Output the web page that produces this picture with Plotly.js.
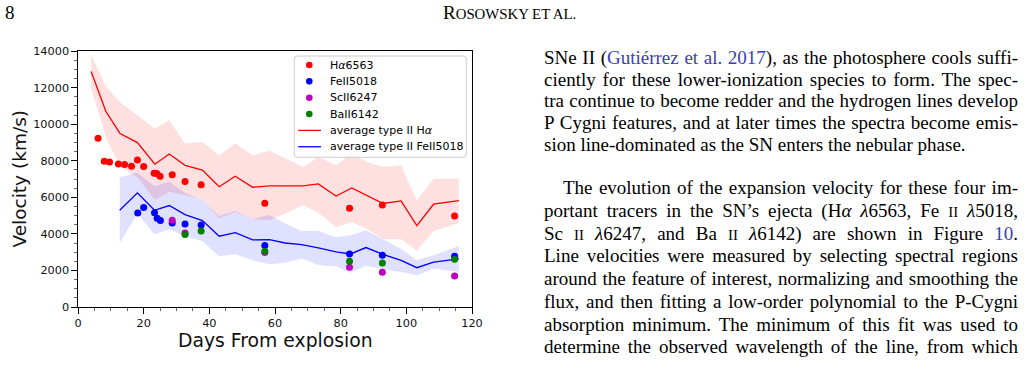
<!DOCTYPE html>
<html>
<head>
<meta charset="utf-8">
<script src="https://cdn.plot.ly/plotly-3.0.1.min.js"></script>
<style>
  html, body { margin: 0; padding: 0; background: #fff; }
  #page { position: relative; width: 1034px; height: 373px; overflow: hidden; background: #fff; }
  #chart { position: absolute; left: 0; top: 0; width: 1034px; height: 373px; }
  .serif { font-family: "Liberation Serif", "Times New Roman", serif; color: #000; }
  .head { position: absolute; font-size: 19px; line-height: 22px; white-space: nowrap; }
  .ln { position: absolute; left: 544px; width: 474px; font-size: 19px; line-height: 22.7px; height: 22.7px;
        text-align: justify; text-align-last: justify; white-space: normal; }
  .ln.end { text-align-last: left; }
  .ln.indent { text-indent: 19px; }
  .sc { font-size: 0.78em; }
  .lk { color: #3a3fae; }
</style>
</head>
<body>
<div id="page">
  <div id="chart"></div>

  <div class="serif head" style="left:5px; top:2px;">8</div>
  <div class="serif head" style="left:443px; top:2px;">R<span class="sc">OSOWSKY ET AL.</span></div>

  <div class="serif ln" style="top:47px;">SNe II (<span class="lk">Gutiérrez et al. 2017</span>), as the photosphere cools suffi-</div>
  <div class="serif ln" style="top:68.7px;">ciently for these lower-ionization species to form. The spec-</div>
  <div class="serif ln" style="top:90.4px;">tra continue to become redder and the hydrogen lines develop</div>
  <div class="serif ln" style="top:112.1px;">P Cygni features, and at later times the spectra become emis-</div>
  <div class="serif ln end" style="top:133.8px;">sion line-dominated as the SN enters the nebular phase.</div>

  <div class="serif ln indent" style="top:177px;">The evolution of the expansion velocity for these four im-</div>
  <div class="serif ln" style="top:199.75px;">portant tracers in the SN’s ejecta (H<i>α</i> <i>λ</i>6563, Fe <span class="sc">II</span> <i>λ</i>5018,</div>
  <div class="serif ln" style="top:222.5px;">Sc <span class="sc">II</span> <i>λ</i>6247, and Ba <span class="sc">II</span> <i>λ</i>6142) are shown in Figure <span class="lk">10</span>.</div>
  <div class="serif ln" style="top:245.25px;">Line velocities were measured by selecting spectral regions</div>
  <div class="serif ln" style="top:268px;">around the feature of interest, normalizing and smoothing the</div>
  <div class="serif ln" style="top:290.75px;">flux, and then fitting a low-order polynomial to the P-Cygni</div>
  <div class="serif ln" style="top:313.5px;">absorption minimum. The minimum of this fit was used to</div>
  <div class="serif ln" style="top:336.25px;">determine the observed wavelength of the line, from which</div>
</div>

<script>
// ---- measured line velocities (km/s) vs days from explosion ----
const haDays = [6.1, 8.0, 9.6, 12.3, 14.2, 16.3, 18.1, 20.0, 23.2, 24.0, 25.0, 28.7, 32.6, 37.5, 56.9, 82.7, 92.7, 114.7];
const haVel  = [9230, 7970, 7930, 7820, 7790, 7700, 8040, 7680, 7310, 7300, 7150, 7230, 6860, 6680, 5670, 5400, 5580, 4980];

const feDays = [18.2, 20.0, 23.3, 24.1, 25.1, 28.7, 32.6, 37.5, 56.9, 82.7, 92.7, 114.7];
const feVel  = [5140, 5440, 5160, 4850, 4730, 4600, 4540, 4490, 3360, 2900, 2830, 2770];

const scDays = [28.7, 32.6, 56.9, 82.7, 92.7, 114.7];
const scVel  = [4740, 4050, 2980, 2170, 1900, 1700];

const baDays = [32.6, 37.5, 56.9, 82.7, 92.7, 114.7];
const baVel  = [3960, 4160, 3050, 2500, 2410, 2610];

// ---- average type II SN velocities with 1-sigma envelope (km/s) ----
const avgHaDays  = [4.0, 8.5, 12.8, 18.1, 23.4, 27.8, 32.6, 37.9, 43.0, 47.9, 53.2, 58.4, 63.2, 68.6, 73.2, 78.6, 83.4, 88.0, 92.9, 98.4, 103.2, 108.3, 116.0];
const avgHaVel   = [12880, 10690, 9490, 8990, 7810, 8370, 7750, 7490, 6580, 7150, 6550, 6620, 6620, 6620, 6730, 6070, 6510, 6110, 5660, 5800, 4450, 5620, 5820];
const avgHaUpper = [13790, 12070, 11210, 10490, 9760, 10210, 8940, 9030, 8300, 8940, 8300, 8540, 8120, 7660, 8210, 7750, 8390, 7930, 7660, 7750, 5840, 7020, 7020];
const avgHaLower = [11950, 9300, 7650, 7100, 5850, 6300, 6100, 5900, 4850, 5200, 4780, 4760, 5110, 5570, 5150, 4380, 4630, 4250, 3720, 3700, 3080, 4150, 4600];

const avgFeDays  = [12.7, 18.1, 23.3, 27.8, 32.6, 37.9, 43.0, 47.9, 53.2, 58.3, 63.1, 68.1, 73.2, 78.6, 83.0, 87.7, 92.9, 98.4, 103.2, 108.3, 116.0];
const avgFeVel   = [5290, 6240, 5290, 5550, 5050, 4730, 3870, 4070, 3670, 3690, 3500, 3410, 3230, 3010, 2900, 3250, 2880, 2550, 2150, 2460, 2630];
const avgFeUpper = [7100, 7360, 6600, 6850, 6230, 5870, 4970, 5260, 4790, 5040, 4570, 4160, 4160, 3810, 3930, 4200, 3700, 3190, 2560, 2830, 3330];
const avgFeLower = [3500, 5120, 3970, 4250, 3870, 3590, 2770, 2880, 2550, 2340, 2420, 2650, 2300, 2210, 1870, 2250, 2060, 1910, 1740, 2090, 1930];

// ---- figure geometry ----
const W = 1034, H = 373;
const M = { l: 78, r: 562, t: 51, b: 66 };
const plotW = W - M.l - M.r, plotH = H - M.t - M.b;
const px2x = p => (p - M.l) / plotW;          // page pixel -> paper x
const py2y = p => (H - M.b - p) / plotH;      // page pixel -> paper y

const FONT = 'DejaVu Sans, Verdana, sans-serif';

function band(days, upper, lower, color) {
  return {
    type: 'scatter', mode: 'lines',
    x: days.concat(days.slice().reverse()),
    y: upper.concat(lower.slice().reverse()),
    fill: 'toself', fillcolor: color,
    line: { width: 0, color: 'rgba(0,0,0,0)' },
    hoverinfo: 'skip', showlegend: false
  };
}
function avgLine(days, vel, color, name) {
  return { type: 'scatter', mode: 'lines', x: days, y: vel, name: name,
           line: { color: color, width: 1.3 }, showlegend: false };
}
function dots(days, vel, color, name) {
  return { type: 'scatter', mode: 'markers', x: days, y: vel, name: name,
           marker: { color: color, size: 7, line: { width: 0 } }, showlegend: false };
}

const traces = [
  band(avgHaDays, avgHaUpper, avgHaLower, 'rgba(255,0,0,0.12)'),
  band(avgFeDays, avgFeUpper, avgFeLower, 'rgba(0,0,255,0.12)'),
  avgLine(avgHaDays, avgHaVel, '#ff0000', 'average type II Hα'),
  avgLine(avgFeDays, avgFeVel, '#0000ff', 'average type II FeII5018'),
  dots(haDays, haVel, '#ff0000', 'Hα6563'),
  dots(feDays, feVel, '#0000ff', 'FeII5018'),
  dots(scDays, scVel, '#bf00bf', 'ScII6247'),
  dots(baDays, baVel, '#008000', 'BaII6142')
];

// ---- legend (drawn in page pixels, upper right of the axes) ----
const legendEntries = [
  { label: 'H<i>α</i>6563', kind: 'dot', color: '#ff0000' },
  { label: 'FeII5018', kind: 'dot', color: '#0000ff' },
  { label: 'ScII6247', kind: 'dot', color: '#bf00bf' },
  { label: 'BaII6142', kind: 'dot', color: '#008000' },
  { label: 'average type II H<i>α</i>', kind: 'line', color: '#ff0000' },
  { label: 'average type II FeII5018', kind: 'line', color: '#0000ff' }
];
const LG = { x0: 294.3, y0: 56, x1: 466.3, y1: 157.3, r: 3, row0: 65, step: 16.35,
             dotX: 309.3, lineX0: 298.3, lineX1: 321, textX: 329.3 };

function roundedBox(b) {
  const X = px2x, Y = py2y, r = b.r;
  return 'M' + X(b.x0 + r) + ',' + Y(b.y0) +
         ' L' + X(b.x1 - r) + ',' + Y(b.y0) + ' Q' + X(b.x1) + ',' + Y(b.y0) + ' ' + X(b.x1) + ',' + Y(b.y0 + r) +
         ' L' + X(b.x1) + ',' + Y(b.y1 - r) + ' Q' + X(b.x1) + ',' + Y(b.y1) + ' ' + X(b.x1 - r) + ',' + Y(b.y1) +
         ' L' + X(b.x0 + r) + ',' + Y(b.y1) + ' Q' + X(b.x0) + ',' + Y(b.y1) + ' ' + X(b.x0) + ',' + Y(b.y1 - r) +
         ' L' + X(b.x0) + ',' + Y(b.y0 + r) + ' Q' + X(b.x0) + ',' + Y(b.y0) + ' ' + X(b.x0 + r) + ',' + Y(b.y0) + ' Z';
}

const shapes = [{
  type: 'path', xref: 'paper', yref: 'paper', path: roundedBox(LG),
  fillcolor: 'rgba(255,255,255,0.8)', line: { color: '#cccccc', width: 1 }, layer: 'above'
}];
const annotations = [];
legendEntries.forEach((e, i) => {
  const cy = LG.row0 + i * LG.step;
  if (e.kind === 'dot') {
    shapes.push({ type: 'circle', xref: 'paper', yref: 'paper', xsizemode: 'pixel', ysizemode: 'pixel',
                  xanchor: px2x(LG.dotX), yanchor: py2y(cy), x0: -3.3, x1: 3.3, y0: -3.3, y1: 3.3,
                  fillcolor: e.color, line: { width: 0 }, layer: 'above' });
  } else {
    shapes.push({ type: 'line', xref: 'paper', yref: 'paper',
                  x0: px2x(LG.lineX0), x1: px2x(LG.lineX1), y0: py2y(cy), y1: py2y(cy),
                  line: { color: e.color, width: 1.3 }, layer: 'above' });
  }
  annotations.push({ xref: 'paper', yref: 'paper', x: px2x(LG.textX), y: py2y(cy),
                     xanchor: 'left', yanchor: 'middle', showarrow: false, text: e.label,
                     font: { family: FONT, size: 11, color: '#000' }, borderpad: 0 });
});

// axis titles, placed in page pixels
annotations.push({ xref: 'paper', yref: 'paper', x: 0.5, y: py2y(340), xanchor: 'center', yanchor: 'middle',
                   showarrow: false, text: 'Days From explosion', borderpad: 0,
                   font: { family: FONT, size: 18.8, color: '#111' } });
annotations.push({ xref: 'paper', yref: 'paper', x: px2x(18.5), y: 0.5, xanchor: 'center', yanchor: 'middle',
                   showarrow: false, text: 'Velocity (km/s)', textangle: -90, borderpad: 0,
                   font: { family: FONT, size: 18.5, color: '#111' } });

const axisCommon = {
  showgrid: false, zeroline: false, showline: true, mirror: true,
  linecolor: '#000', linewidth: 1.1,
  ticks: 'outside', ticklen: 5.5, tickwidth: 1, tickcolor: '#000',
  tickfont: { family: FONT, size: 11.3, color: '#111' },
  fixedrange: true
};

const layout = {
  width: W, height: H,
  margin: M,
  paper_bgcolor: 'rgba(0,0,0,0)', plot_bgcolor: 'rgba(0,0,0,0)',
  font: { family: FONT, color: '#000' },
  showlegend: false,
  xaxis: Object.assign({}, axisCommon, {
    range: [0, 120], tickmode: 'linear', tick0: 0, dtick: 20,
    minor: { dtick: 5, ticks: 'outside', ticklen: 3, tickwidth: 0.8, tickcolor: '#444', showgrid: false }
  }),
  yaxis: Object.assign({}, axisCommon, {
    range: [0, 14000], tickmode: 'linear', tick0: 0, dtick: 2000, tickformat: 'd',
    minor: { dtick: 500, ticks: 'outside', ticklen: 3, tickwidth: 0.8, tickcolor: '#444', showgrid: false }
  }),
  shapes: shapes,
  annotations: annotations
};

Plotly.newPlot('chart', traces, layout, { staticPlot: true, displayModeBar: false });
</script>
</body>
</html>
